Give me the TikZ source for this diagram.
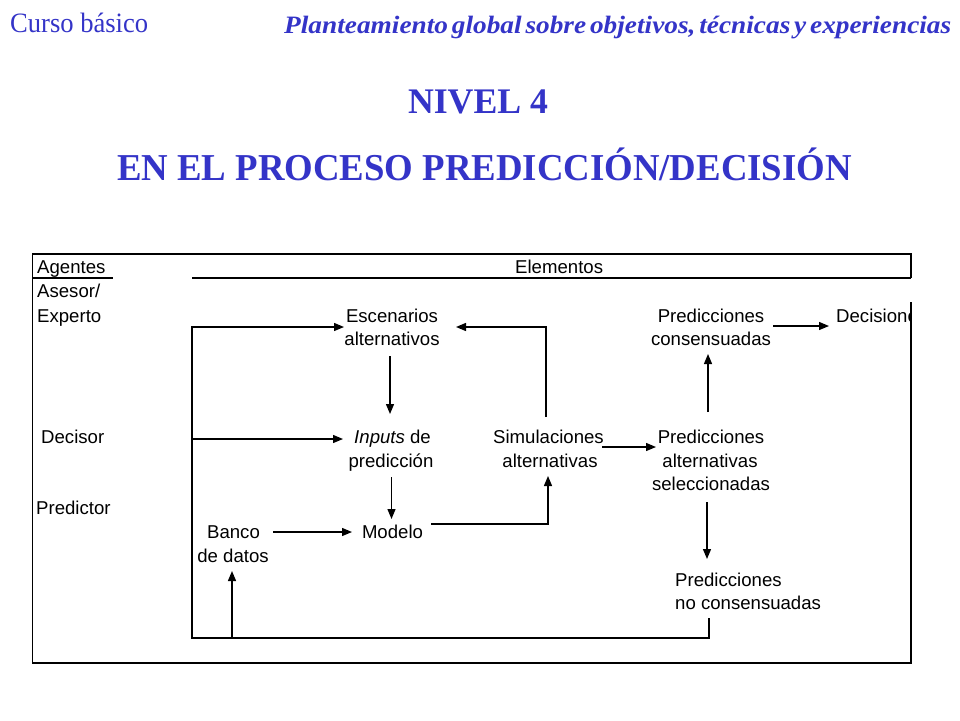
\documentclass[tikz,border=0pt]{standalone}
\usepackage{fontspec}
\usepackage{graphicx}
\setmainfont{Liberation Serif}
\newfontfamily\arialf{Liberation Sans}
\usetikzlibrary{arrows.meta}
\definecolor{titleblue}{RGB}{52,52,200}
\tikzset{
  lbl/.style={font=\arialf\fontsize{18.6}{22}\selectfont, inner sep=0pt, anchor=base},
  lbll/.style={lbl, anchor=base west},
  ln/.style={line width=1.3pt},
  arr/.style={ln, -{Triangle[length=10pt,width=8pt]}},
  ttl/.style={inner sep=0pt, text=titleblue}
}
\begin{document}
\begin{tikzpicture}[x=1pt,y=-1pt]
\useasboundingbox (0,0) rectangle (960,720);
\fill[white] (0,0) rectangle (960,720);

% titles
\node[ttl, anchor=base west] (curso) at (10,32) {\resizebox{138pt}{\height}{\fontsize{28}{30}\selectfont Curso básico}};
\node[ttl, anchor=base west] (plan) at (284,33) {\resizebox{667pt}{\height}{\fontsize{25}{28}\selectfont\bfseries\itshape\spaceskip=0.14em Planteamiento global sobre objetivos, técnicas y experiencias}};
\node[ttl, anchor=base] (nivel) at (478,113) {\resizebox{140pt}{\height}{\fontsize{36}{40}\selectfont\bfseries NIVEL 4}};
\node[ttl, anchor=base] (proc) at (484.5,180) {\resizebox{735pt}{\height}{\fontsize{38}{42}\selectfont\bfseries EN EL PROCESO PREDICCIÓN/DECISIÓN}};

% frame
\draw[ln] (911,278) -- (911,254) -- (32.5,254) -- (32.5,663) -- (911,663) -- (911,302);
\draw[ln] (32.5,278) -- (113,278);
\draw[ln] (192,278) -- (911,278);

% header and agents
\node[lbll] (agentes) at (37,273) {Agentes};
\node[lbll] (elementos) at (515,273) {Elementos};
\node[lbll] (ase) at (37,297) {Asesor/};
\node[lbll] (expe) at (37,322) {Experto};
\node[lbll] (decisor) at (41,443) {Decisor};
\node[lbll] (predictor) at (36,514) {Predictor};

% elements
\node[lbl] (esc) at (392,322) {Escenarios};
\node[lbl] (esc2) at (392,345) {alternativos};
\node[lbl] (inp) at (392.5,443) {\textit{Inputs} de};
\node[lbl] (inp2) at (391,467) {predicción};
\node[lbl] (mod) at (392.5,538) {Modelo};
\node[lbl] (ban) at (233.5,538) {Banco};
\node[lbl] (ban2) at (233,562) {de datos};
\node[lbl] (sim) at (548.5,443) {Simulaciones};
\node[lbl] (sim2) at (550,467) {alternativas};
\node[lbl] (pc) at (711,322) {Predicciones};
\node[lbl] (pc2) at (711,345) {consensuadas};
\node[lbl] (pa) at (711,443) {Predicciones};
\node[lbl] (pa2) at (710,467) {alternativas};
\node[lbl] (pa3) at (711,490) {seleccionadas};
\node[lbll] (pn) at (675,586) {Predicciones};
\node[lbll] (pn2) at (675,609) {no consensuadas};
\begin{scope}
\clip (0,0) rectangle (910,720);
\node[lbll] (dec) at (836,322) {Decisiones};
\end{scope}

% connector coordinates
\coordinate (loopA) at (709,618);
\coordinate (loopB) at (709,638);
\coordinate (loopC) at (192,638);
\coordinate (loopD) at (192,327);
\coordinate (escIn) at (344,327);
\coordinate (decL) at (192,439);
\coordinate (inpIn) at (343,439);
\coordinate (banFoot) at (232,638);
\coordinate (banIn) at (232,571);
\coordinate (escOut) at (390,356);
\coordinate (inpTop) at (390,414);
\coordinate (inpOut) at (391.5,477);
\coordinate (modTop) at (391.5,519);
\coordinate (banOut) at (273,532);
\coordinate (modIn) at (352,532);
\coordinate (modOut) at (431,524);
\coordinate (modCorner) at (548,524);
\coordinate (simIn) at (548,476);
\coordinate (simOut) at (546,417);
\coordinate (simCorner) at (546,327);
\coordinate (escInR) at (456,327);
\coordinate (simOutR) at (602,447);
\coordinate (paIn) at (656,447);
\coordinate (paOut) at (708,412);
\coordinate (pcIn) at (708,354);
\coordinate (pcOut) at (773,326);
\coordinate (decIn) at (829,326);
\coordinate (paOutB) at (707,502);
\coordinate (pnIn) at (707,559);

% connectors
\draw[arr] (loopA) -- (loopB) -- (loopC) -- (loopD) -- (escIn);
\draw[arr] (decL) -- (inpIn);
\draw[arr] (banFoot) -- (banIn);
\draw[arr] (escOut) -- (inpTop);
\draw[arr] (inpOut) -- (modTop);
\draw[arr] (banOut) -- (modIn);
\draw[arr] (modOut) -- (modCorner) -- (simIn);
\draw[arr] (simOut) -- (simCorner) -- (escInR);
\draw[arr] (simOutR) -- (paIn);
\draw[arr] (paOut) -- (pcIn);
\draw[arr] (pcOut) -- (decIn);
\draw[arr] (paOutB) -- (pnIn);
\end{tikzpicture}
\end{document}
